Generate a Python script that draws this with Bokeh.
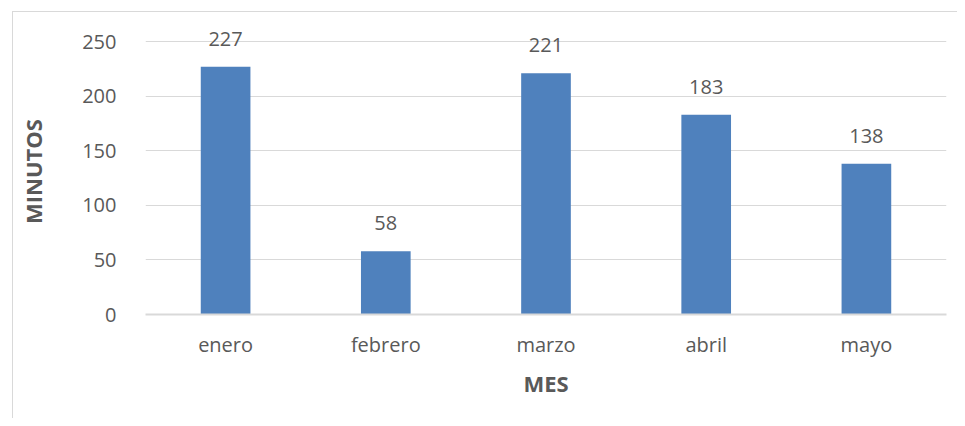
from bokeh.plotting import figure
from bokeh.models import ColumnDataSource, LabelSet, FixedTicker
from bokeh.core.properties import value
from bokeh.embed import file_html
from bokeh.resources import INLINE

meses = ["enero", "febrero", "marzo", "abril", "mayo"]
minutos = [227, 58, 221, 183, 138]
y_ticks = [0, 50, 100, 150, 200, 250]

src = ColumnDataSource(dict(mes=meses, minutos=minutos, lbl=[str(v) for v in minutos]))

FONT = "Open Sans"
GREY = "#595959"

p = figure(x_range=meses, y_range=(0, 262), width=945, height=407,
           output_backend="svg", toolbar_location=None,
           min_border_left=132, min_border_right=12, min_border_top=16,
           min_border_bottom=105)
p.margin = (11, 0, 0, 12)
p.styles = {"border-top": "1px solid #d9d9d9", "border-left": "1px solid #d9d9d9",
            "box-sizing": "border-box"}
p.outline_line_color = None
p.background_fill_color = "white"
p.border_fill_color = "white"

p.vbar(x="mes", top="minutos", width=0.31, source=src, color="#4f81bd", line_color=None)

labels = LabelSet(x="mes", y="minutos", text="lbl", source=src, y_offset=28,
                  text_align="center", text_baseline="middle",
                  text_font=value(FONT), text_font_size="20px", text_color=GREY)
p.add_layout(labels)

p.yaxis.ticker = FixedTicker(ticks=y_ticks)
p.ygrid.ticker = FixedTicker(ticks=y_ticks)
p.ygrid.grid_line_color = "#d9d9d9"
p.ygrid.grid_line_width = 1
p.xgrid.grid_line_color = None

for ax in (p.xaxis, p.yaxis):
    ax.major_tick_line_color = None
    ax.minor_tick_line_color = None
    ax.major_label_text_font = FONT
    ax.major_label_text_font_size = "20px"
    ax.major_label_text_color = GREY
    ax.axis_label_text_font = FONT
    ax.axis_label_text_font_size = "22px"
    ax.axis_label_text_font_style = "bold"
    ax.axis_label_text_color = GREY

p.yaxis.axis_line_color = None
p.yaxis.major_label_standoff = 23
p.yaxis.axis_label = "MINUTOS"
p.yaxis.axis_label_standoff = 31

p.xaxis.axis_line_color = "#d9d9d9"
p.xaxis.axis_line_width = 2
p.xaxis.major_label_standoff = 10
p.xaxis.axis_label = "MES"
p.xaxis.axis_label_standoff = 7

open("out.html", "w").write(file_html(p, INLINE))
